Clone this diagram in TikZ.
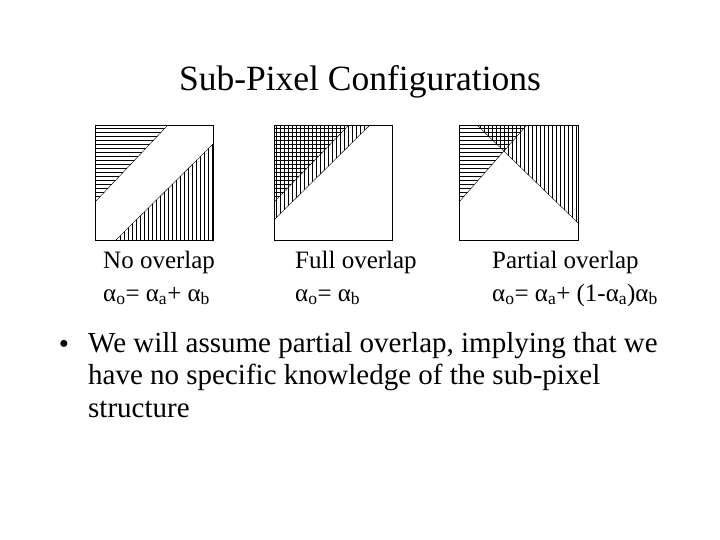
\documentclass[tikz,border=0pt]{standalone}
\usepackage{fontspec}
\setmainfont{Liberation Serif}
\begin{document}
\begin{tikzpicture}[x=1pt,y=-1pt,
  sq/.style={draw=black,line width=1pt},
  hat/.style={line width=0.5pt},
  lbl/.style={anchor=base west,inner sep=0pt,font=\fontsize{25}{28}\selectfont}]
\useasboundingbox (0,0) rectangle (720,540);
\node[inner sep=0pt,font=\fontsize{35.5}{40}\selectfont] (title) at (360,82) {Sub-Pixel Configurations};
% square 1
\begin{scope}
\clip (95,126) -- (167,126) -- (95,202) -- cycle;
\foreach \y in {128,132,...,204} \draw[hat] (95,\y) -- (213,\y);
\end{scope}
\begin{scope}
\clip (116,240) -- (213,144) -- (213,240) -- cycle;
\foreach \x in {96,100,...,214} \draw[hat] (\x,126) -- (\x,240);
\end{scope}
\draw (167,126) -- (95,202);
\draw (116,240) -- (213,144);
\draw[sq] (95,126) rectangle (213,240);
% square 2
\begin{scope}
\clip (274,126) -- (348,126) -- (274,202) -- cycle;
\foreach \y in {128,132,...,204} \draw[hat] (274,\y) -- (392,\y);
\end{scope}
\begin{scope}
\clip (274,126) -- (369,126) -- (274,220) -- cycle;
\foreach \x in {276,280,...,372} \draw[hat] (\x,126) -- (\x,240);
\end{scope}
\draw (348,126) -- (274,202);
\draw (369,126) -- (274,220);
\draw[sq] (274,126) rectangle (392,240);
% square 3
\begin{scope}
\clip (459,126) -- (526,126) -- (459,202) -- cycle;
\foreach \y in {128,132,...,204} \draw[hat] (459,\y) -- (578,\y);
\end{scope}
\begin{scope}
\clip (478,126) -- (578,126) -- (578,223) -- cycle;
\foreach \x in {480,484,...,580} \draw[hat] (\x,126) -- (\x,240);
\end{scope}
\draw (526,126) -- (459,202);
\draw (478,126) -- (578,223);
\draw[sq] (459,126) rectangle (578,240);
% labels
\newcommand{\al}[1]{α\textsubscript{#1}}
\node[lbl] (l1) at (103,268) {No overlap};
\node[lbl] (f1) at (103,301) {\al{o}= \al{a}+ \al{b}};
\node[lbl] (l2) at (295,268) {Full overlap};
\node[lbl] (f2) at (295,301) {\al{o}= \al{b}};
\node[lbl] (l3) at (492,268) {Partial overlap};
\node[lbl] (f3) at (492,301) {\al{o}= \al{a}+ (1-\al{a})\al{b}};
% bullet
\node[inner sep=0pt,font=\fontsize{29}{32}\selectfont] (bul) at (64,347) {•};
\node[anchor=north west,inner sep=0pt,align=left,font=\fontsize{29}{32.5}\selectfont] (txt) at (88,332)
 {We will assume partial overlap, implying that we\\have no specific knowledge of the sub-pixel\\structure};
\end{tikzpicture}
\end{document}
